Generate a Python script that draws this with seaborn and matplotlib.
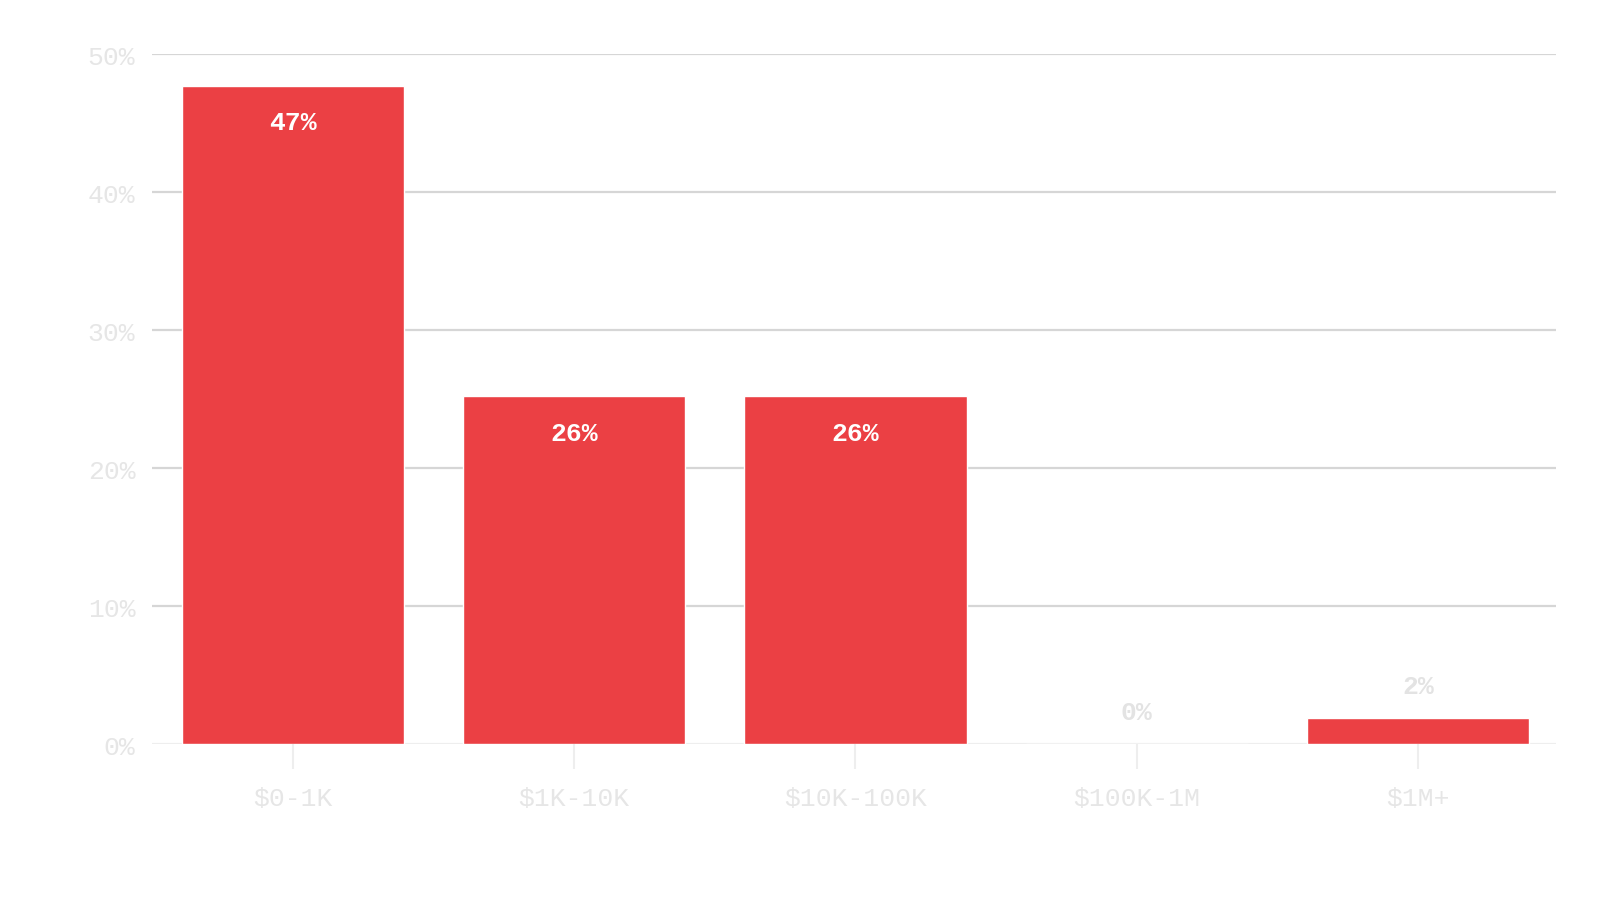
import matplotlib
matplotlib.use("Agg")
import matplotlib.pyplot as plt
import seaborn as sns
import pandas as pd

# --------------------------------------------------------
# Data
# --------------------------------------------------------

categories = ["$0-1K", "$1K-10K", "$10K-100K", "$100K-1M", "$1M+"]
shares = [47.7, 25.2, 25.2, 0.0, 1.9]
value_labels = ["47%", "26%", "26%", "0%", "2%"]
y_ticks = [0, 10, 20, 30, 40, 50]

BAR_COLOR = "#EB4044"
TICK_TEXT = "#e6e6e6"
GRID_COLOR = "#d6d6d6"

sns.set_theme(style="white")
plt.rcParams["font.family"] = ["Liberation Mono", "DejaVu Sans Mono"]

df = pd.DataFrame({"bucket": categories, "share": shares})

fig = plt.figure(figsize=(16, 9.2), dpi=100)
ax = fig.add_axes([0.095, 0.19, 0.8775, 0.75])

sns.barplot(
    data=df,
    x="bucket",
    y="share",
    color=BAR_COLOR,
    saturation=1,
    width=0.79,
    ax=ax
)

ax.set_ylim(0, 50)
ax.set_xlim(-0.5, 4.49)
ax.set_yticks(y_ticks)
ax.set_yticklabels([f"{t}%" for t in y_ticks])
ax.set_xlabel("")
ax.set_ylabel("")

ax.set_axisbelow(True)
ax.yaxis.grid(True, color=GRID_COLOR, linewidth=1.6)
ax.get_ygridlines()[0].set_color("#eeeeee")

for side in ["top", "right", "left", "bottom"]:
    ax.spines[side].set_visible(False)

ax.tick_params(axis="y", left=False, length=0, pad=12, labelsize=19, labelcolor=TICK_TEXT)
ax.tick_params(
    axis="x",
    bottom=True,
    direction="out",
    length=18,
    width=1.5,
    color="#eeeeee",
    pad=12,
    labelsize=19,
    labelcolor=TICK_TEXT
)

# value labels: white inside tall bars, grey above short ones
for i, (val, text) in enumerate(zip(shares, value_labels)):
    if val > 5:
        ax.annotate(
            text,
            xy=(i, val),
            xytext=(0, -26),
            textcoords="offset points",
            ha="center",
            va="center",
            fontsize=19,
            fontweight="bold",
            color="white"
        )
    else:
        ax.annotate(
            text,
            xy=(i, val),
            xytext=(0, 23),
            textcoords="offset points",
            ha="center",
            va="center",
            fontsize=19,
            fontweight="bold",
            color="#e3e3e3"
        )

fig.savefig("out.png", dpi=100)
plt.close(fig)
